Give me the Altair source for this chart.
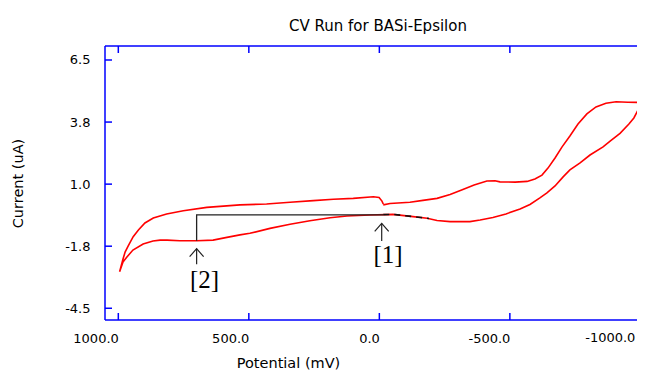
import altair as alt
import pandas as pd

# ---------------- data ----------------
# Cyclic voltammogram, in scan order: potential (mV) and current (uA)
potential_mV = [
    -15, -41, -117, -167, -221, -271, -320, -363, -412, -443, -462, -520, -566,
    -596, -623, -646, -673, -700, -730, -761, -795, -830, -868, -907, -952, -1000,
    -991, -975, -956, -922, -884, -857, -807, -769, -730, -704, -673, -642, -615,
    -577, -539, -485, -435, -386, -347, -271, -221, -183, -129, -52, 36, 124, 189,
    266, 342, 419, 496, 534, 584, 637, 699, 764, 813, 840, 867, 905, 944, 967, 982,
    995,
    982, 974, 962, 943, 923, 898, 866, 815, 751, 661, 534, 432, 342, 253, 176, 100,
    23, 1, -10, -15,
]
current_uA = [
    0.08, 0.14, 0.20, 0.28, 0.37, 0.54, 0.76, 0.96, 1.14, 1.15, 1.10, 1.09, 1.12,
    1.23, 1.40, 1.71, 2.16, 2.65, 3.13, 3.66, 4.11, 4.42, 4.58, 4.65, 4.63, 4.62,
    4.28, 3.93, 3.66, 3.25, 2.91, 2.65, 2.29, 1.94, 1.63, 1.32, 0.92, 0.61, 0.39,
    0.10, -0.10, -0.32, -0.48, -0.59, -0.66, -0.66, -0.61, -0.51, -0.44, -0.34,
    -0.37, -0.41, -0.49, -0.62, -0.78, -0.96, -1.18, -1.25, -1.36, -1.48, -1.51,
    -1.51, -1.48, -1.48, -1.52, -1.65, -1.92, -2.23, -2.45, -2.88,
    -2.32, -2.01, -1.74, -1.33, -1.03, -0.72, -0.50, -0.32, -0.18, -0.03, 0.08,
    0.12, 0.20, 0.27, 0.33, 0.37, 0.44, 0.41, 0.25, 0.12,
]

x_ticks = [1000, 500, 0, -500, -1000]
x_tick_labels = ["1000.0", "500.0", "0.0", "-500.0", "-1000.0"]
y_ticks = [-4.5, -1.75, 1.0, 3.75, 6.5]
y_tick_labels = ["-4.5", "-1.8", "1.0", "3.8", "6.5"]

# peak-baseline annotation (black L shape) and the highlighted peak [1] region
baseline_E = [700, 700, -15]
baseline_I = [-1.51, -0.36, -0.36]
peak1_E = [-15, -52, -100, -129, -160, -190]
peak1_I = [-0.35, -0.34, -0.40, -0.44, -0.48, -0.52]

# arrows and labels
arrow_E = [-9, 700]
arrow_tip_I = [-0.74, -1.86]
arrow_tail_I = [-1.52, -2.55]
label_text = ["[1]", "[2]"]
label_E = [-33, 670]
label_I = [-2.14, -3.23]

# ---------------- chart ----------------
# the plot runs past the right edge of the picture (as in the reference):
# the scale spans 538 px but only 532 px of it are inside the picture
W, H = 532, 274
FONT = "DejaVu Sans"
BLUE = "#0000ff"

xscale = alt.Scale(domain=[1051, -1010], range=[0, 538], nice=False, zero=False)
yscale = alt.Scale(domain=[-5.02, 7.12], nice=False, zero=False)


def label_expr(vals, labs):
    s = "'" + labs[-1] + "'"
    for v, l in reversed(list(zip(vals[:-1], labs[:-1]))):
        s = f"abs(datum.value - ({v})) < 0.000001 ? '{l}' : " + s
    return s


cv = pd.DataFrame({"E": potential_mV, "I": current_uA, "k": range(len(potential_mV))})
base_df = pd.DataFrame({"E": baseline_E, "I": baseline_I, "k": range(len(baseline_E))})
pk_df = pd.DataFrame({"E": peak1_E, "I": peak1_I, "k": range(len(peak1_E))})
arr_df = pd.DataFrame({"E": arrow_E, "tip": arrow_tip_I, "tail": arrow_tail_I})
lab_df = pd.DataFrame({"E": label_E, "I": label_I, "t": label_text})
xt_df = pd.DataFrame({"v": x_ticks})
yt_df = pd.DataFrame({"v": y_ticks})
edge_lab_df = pd.DataFrame({"v": x_ticks[-1:], "t": x_tick_labels[-1:]})
one = pd.DataFrame({"a": [0]})

x_axis = alt.Axis(
    orient="bottom", values=x_ticks[:-1],
    labelExpr=label_expr(x_ticks[:-1], x_tick_labels[:-1]),
    ticks=False, grid=False, domain=False,
    labelAlign="right", labelBaseline="top", labelPadding=12,
    labelFont=FONT, labelFontSize=13, labelColor="black",
    labelFlush=False, labelOverlap=False, labelBound=False,
    title="Potential (mV)", titleFont=FONT, titleFontSize=14.5,
    titleFontWeight="normal", titleColor="black",
    titleX=183, titleY=43, titleAlign="center", titleBaseline="middle",
)
y_axis = alt.Axis(
    orient="left", values=y_ticks, labelExpr=label_expr(y_ticks, y_tick_labels),
    ticks=False, grid=False, domain=False,
    labelAlign="right", labelBaseline="middle", labelPadding=15,
    labelFont=FONT, labelFontSize=13, labelColor="black",
    labelFlush=False, labelOverlap=False,
    title="Current (uA)", titleFont=FONT, titleFontSize=14.5,
    titleFontWeight="normal", titleColor="black", titleAngle=270,
    titleX=-87, titleY=H / 2, titleAlign="center", titleBaseline="middle",
)

curve = alt.Chart(cv).mark_line(color="#ff0000", strokeWidth=1.6).encode(
    x=alt.X("E:Q", scale=xscale, axis=x_axis),
    y=alt.Y("I:Q", scale=yscale, axis=y_axis),
    order="k:Q",
)

# label of the last tick, which sits at the very edge of the picture
edge_label = alt.Chart(edge_lab_df).mark_text(
    font=FONT, fontSize=13, color="black", align="right", baseline="top", dx=-5,
).encode(
    x=alt.X("v:Q", scale=xscale),
    y=alt.value(H + 12),
    text="t:N",
)

baseline = alt.Chart(base_df).mark_line(color="#222222", strokeWidth=1.3).encode(
    x=alt.X("E:Q", scale=xscale),
    y=alt.Y("I:Q", scale=yscale),
    order="k:Q",
)

peak1 = alt.Chart(pk_df).mark_line(color="#111111", strokeWidth=1.6, strokeDash=[6, 5]).encode(
    x=alt.X("E:Q", scale=xscale),
    y=alt.Y("I:Q", scale=yscale),
    order="k:Q",
)

shaft = alt.Chart(arr_df).mark_rule(color="#222222", strokeWidth=1.2).encode(
    x=alt.X("E:Q", scale=xscale),
    y=alt.Y("tip:Q", scale=yscale),
    y2="tail:Q",
)

head = alt.Chart(arr_df).mark_point(
    shape="M-1,1.15L0,0L1,1.15", filled=False, size=196,
    color="#222222", strokeWidth=1.2, opacity=1,
).encode(
    x=alt.X("E:Q", scale=xscale),
    y=alt.Y("tip:Q", scale=yscale),
)

labels = alt.Chart(lab_df).mark_text(
    font="Liberation Serif", fontSize=25, color="black",
    align="center", baseline="middle",
).encode(
    x=alt.X("E:Q", scale=xscale),
    y=alt.Y("I:Q", scale=yscale),
    text="t:N",
)

# frame (blue, open on the right) and inward ticks
frame_top = alt.Chart(one).mark_rule(color=BLUE, strokeWidth=1.5).encode(
    x=alt.value(0), x2=alt.value(W + 12), y=alt.value(0))
frame_bottom = alt.Chart(one).mark_rule(color=BLUE, strokeWidth=1.5).encode(
    x=alt.value(0), x2=alt.value(W + 12), y=alt.value(H))
frame_left = alt.Chart(one).mark_rule(color=BLUE, strokeWidth=1.5).encode(
    x=alt.value(0), y=alt.value(0), y2=alt.value(H))

yticks = alt.Chart(yt_df).mark_rule(color=BLUE, strokeWidth=1.5).encode(
    y=alt.Y("v:Q", scale=yscale),
    x=alt.value(0), x2=alt.value(7),
)
xticks_bottom = alt.Chart(xt_df).mark_rule(color=BLUE, strokeWidth=1.5).encode(
    x=alt.X("v:Q", scale=xscale),
    y=alt.value(H), y2=alt.value(H - 7),
)
xticks_top = alt.Chart(xt_df).mark_rule(color=BLUE, strokeWidth=1.5).encode(
    x=alt.X("v:Q", scale=xscale),
    y=alt.value(0), y2=alt.value(7),
)

chart = alt.layer(
    curve, frame_top, frame_bottom, frame_left, xticks_top, xticks_bottom, yticks,
    baseline, peak1, shaft, head, labels, edge_label
).properties(
    width=W, height=H,
    background="white",
    title=alt.TitleParams(
        "CV Run for BASi-Epsilon", font=FONT, fontSize=15, fontWeight="normal",
        color="black", anchor="middle", frame="group", offset=11, dx=7,
    ),
    autosize=alt.AutoSizeParams(type="none"),
    padding={"left": 97, "top": 38, "right": 0, "bottom": 50},
).configure_view(stroke=None, strokeWidth=0, strokeOpacity=0)

chart.save("out.html", embed_options={"renderer": "svg", "actions": False})
